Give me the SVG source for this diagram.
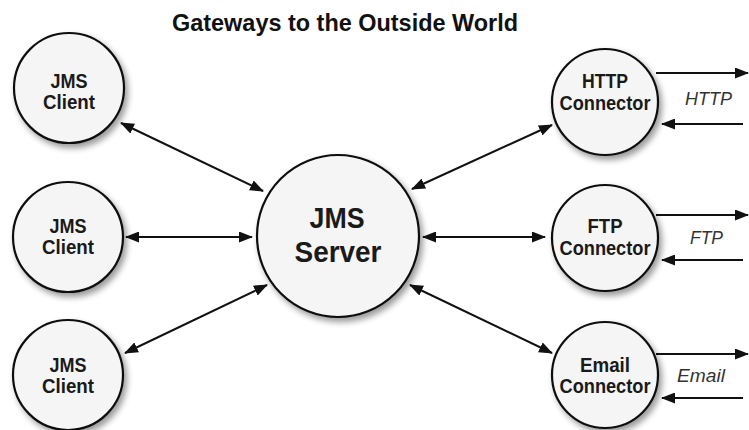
<svg xmlns="http://www.w3.org/2000/svg" width="749" height="430" viewBox="0 0 749 430">
<style>
.node{fill:#f5f5f5;stroke:#111;stroke-width:2.2;filter:url(#sh)}
.lbl{font-family:"Liberation Sans",Arial,sans-serif;font-weight:bold;fill:#1a1a1a;text-anchor:middle}
.sm{font-size:20px}
.big{font-size:30px}
.proto{font-family:"Liberation Sans",Arial,sans-serif;font-style:italic;font-size:19px;fill:#333}
.title{font-family:"Liberation Sans",Arial,sans-serif;font-weight:bold;font-size:24px;fill:#111}
.c{stroke:#111;stroke-width:2;fill:none}
.bi{marker-start:url(#ah);marker-end:url(#ah)}
.one{marker-end:url(#ah)}
</style>
<defs>
<filter id="sh" x="-20%" y="-20%" width="150%" height="150%">
<feGaussianBlur in="SourceAlpha" stdDeviation="3"/>
<feOffset dx="3" dy="4" result="b"/>
<feComponentTransfer><feFuncA type="linear" slope="0.4"/></feComponentTransfer>
<feMerge><feMergeNode/><feMergeNode in="SourceGraphic"/></feMerge>
</filter>
<marker id="ah" markerUnits="userSpaceOnUse" markerWidth="14" markerHeight="11" refX="13" refY="5.5" orient="auto-start-reverse" viewBox="0 0 14 11">
<path d="M0,0 L14,5.5 L0,11 z" fill="#111"/>
</marker>
</defs>
<rect width="749" height="430" fill="#fff"/>
<text class="title" x="172" y="31" textLength="346" lengthAdjust="spacingAndGlyphs">Gateways to the Outside World</text>

<g id="connectors">
<line class="c bi" x1="121" y1="123" x2="263" y2="191"/>
<line class="c bi" x1="126" y1="237" x2="252" y2="237"/>
<line class="c bi" x1="125" y1="353" x2="267" y2="285"/>
<line class="c bi" x1="412" y1="189" x2="552" y2="125"/>
<line class="c bi" x1="423" y1="237" x2="545" y2="237"/>
<line class="c bi" x1="410" y1="285" x2="552" y2="353"/>
<line class="c one" x1="656" y1="73" x2="748" y2="73"/>
<line class="c one" x1="743" y1="124" x2="662" y2="124"/>
<line class="c one" x1="656" y1="215" x2="748" y2="215"/>
<line class="c one" x1="743" y1="260" x2="662" y2="260"/>
<line class="c one" x1="656" y1="354" x2="748" y2="354"/>
<line class="c one" x1="743" y1="398" x2="662" y2="398"/>
</g>

<g id="client1">
<circle class="node" cx="69" cy="88" r="55"/>
<text class="lbl sm" x="69" y="88" textLength="37" lengthAdjust="spacingAndGlyphs">JMS</text>
<text class="lbl sm" x="69" y="109" textLength="52" lengthAdjust="spacingAndGlyphs">Client</text>
</g>
<g id="client2">
<circle class="node" cx="68" cy="237" r="55"/>
<text class="lbl sm" x="68" y="233" textLength="37" lengthAdjust="spacingAndGlyphs">JMS</text>
<text class="lbl sm" x="68" y="254" textLength="52" lengthAdjust="spacingAndGlyphs">Client</text>
</g>
<g id="client3">
<circle class="node" cx="68" cy="375" r="55"/>
<text class="lbl sm" x="68" y="372" textLength="37" lengthAdjust="spacingAndGlyphs">JMS</text>
<text class="lbl sm" x="68" y="393" textLength="52" lengthAdjust="spacingAndGlyphs">Client</text>
</g>
<g id="server">
<circle class="node" cx="338" cy="236" r="81"/>
<text class="lbl big" x="337" y="228" textLength="55" lengthAdjust="spacingAndGlyphs">JMS</text>
<text class="lbl big" x="338" y="262" textLength="87" lengthAdjust="spacingAndGlyphs">Server</text>
</g>
<g id="http">
<circle class="node" cx="605" cy="102" r="53"/>
<text class="lbl sm" x="605" y="88" textLength="46" lengthAdjust="spacingAndGlyphs">HTTP</text>
<text class="lbl sm" x="605" y="110" textLength="91" lengthAdjust="spacingAndGlyphs">Connector</text>
<text class="proto" x="685" y="105" textLength="47" lengthAdjust="spacingAndGlyphs">HTTP</text>
</g>
<g id="ftp">
<circle class="node" cx="605" cy="238" r="53"/>
<text class="lbl sm" x="605" y="233" textLength="35" lengthAdjust="spacingAndGlyphs">FTP</text>
<text class="lbl sm" x="605" y="255" textLength="91" lengthAdjust="spacingAndGlyphs">Connector</text>
<text class="proto" x="690" y="244" textLength="33" lengthAdjust="spacingAndGlyphs">FTP</text>
</g>
<g id="email">
<circle class="node" cx="605" cy="375" r="53"/>
<text class="lbl sm" x="605" y="372" textLength="50" lengthAdjust="spacingAndGlyphs">Email</text>
<text class="lbl sm" x="605" y="393" textLength="91" lengthAdjust="spacingAndGlyphs">Connector</text>
<text class="proto" x="677" y="382" textLength="48" lengthAdjust="spacingAndGlyphs">Email</text>
</g>
</svg>
